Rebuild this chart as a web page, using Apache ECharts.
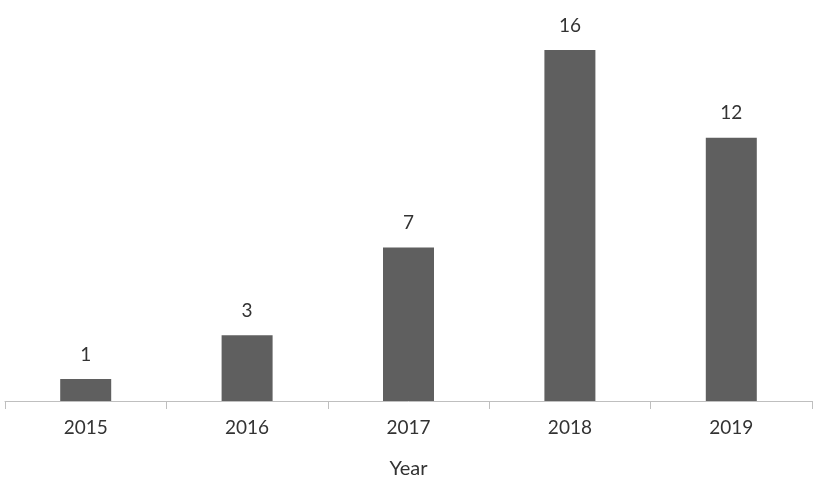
<!doctype html>
<html lang="en">
<head>
    <meta charset="utf-8">
    <title>bar</title>
    <script src="https://cdn.jsdelivr.net/npm/echarts@6/dist/echarts.min.js"></script>
    <style>
        *{margin:0;padding:0}
        html,body{width:100%;height:100%;background:#fff}
        #main{width:822px;height:480px}
    </style>
</head>
<body>
<div id="main"></div>
<script type="text/javascript">
    var years = ['2015', '2016', '2017', '2018', '2019'];
    var counts = [1, 3, 7, 16, 12];

    var myChart = echarts.init(document.getElementById('main'));
    var font = 'Lato, "Open Sans", sans-serif';

    var option = {
        animation: false,
        grid: {left: 5, right: 10, top: 50, bottom: 79, containLabel: false, outerBoundsMode: 'none'},
        xAxis: {
            type: 'category',
            data: years,
            name: 'Year',
            nameLocation: 'middle',
            nameGap: 58,
            nameTextStyle: {color: '#333333', fontSize: 20, fontFamily: font},
            axisLine: {lineStyle: {color: '#bfbfbf', width: 1}},
            axisTick: {show: true, length: 8, lineStyle: {color: '#bfbfbf'}},
            axisLabel: {color: '#333333', fontSize: 19, margin: 17, fontFamily: font}
        },
        yAxis: {
            type: 'value',
            min: 0,
            max: 16,
            show: false
        },
        series: [{
            type: 'bar',
            data: counts,
            barWidth: 51,
            itemStyle: {color: '#5f5f5f'},
            label: {
                show: true,
                position: 'top',
                distance: 15,
                color: '#333333',
                fontSize: 19,
                fontFamily: font
            }
        }]
    };
    myChart.setOption(option);
</script>
</body>
</html>
